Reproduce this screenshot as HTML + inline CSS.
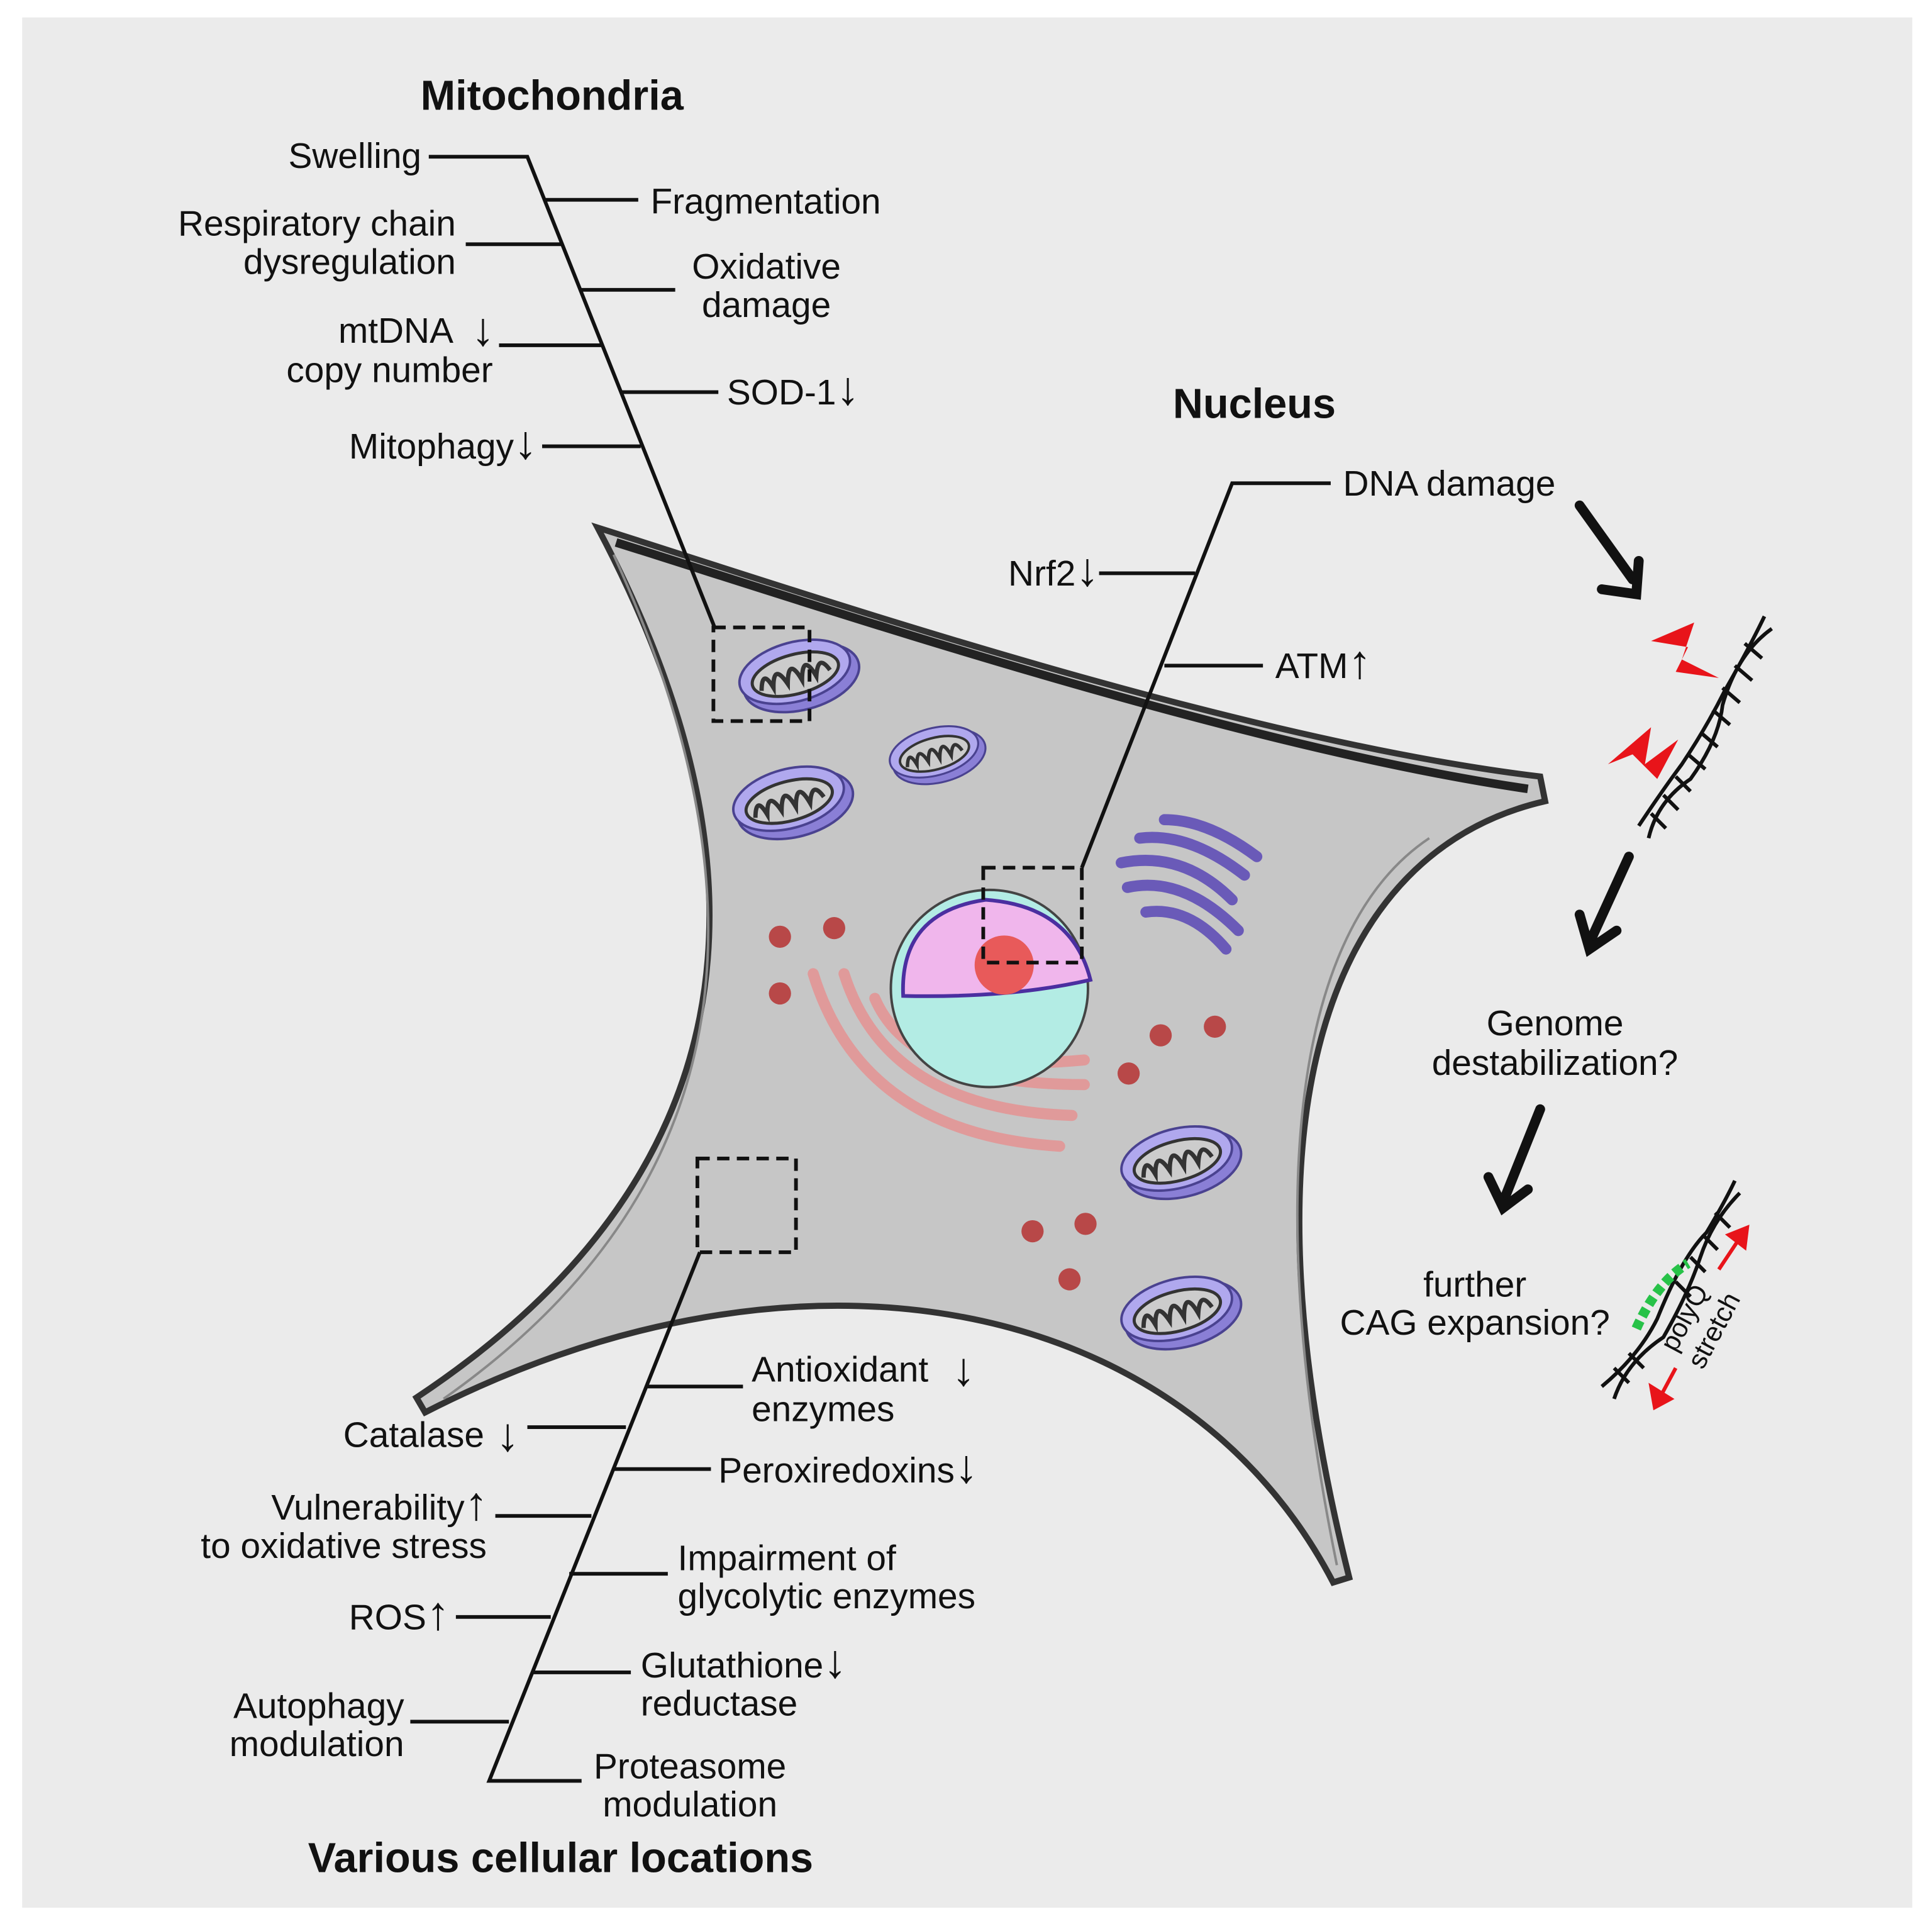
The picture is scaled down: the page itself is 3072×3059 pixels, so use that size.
<!DOCTYPE html>
<html><head><meta charset="utf-8"><style>
html,body{margin:0;padding:0;background:#fff}
svg{display:block}
text{font-family:"Liberation Sans",Arial,sans-serif;fill:#111}
.a{font-size:38px}
</style></head><body>
<svg width="3072" height="3059" viewBox="0 0 1568 1561" xmlns="http://www.w3.org/2000/svg">
<defs>
<g id="mito">
<ellipse cx="4" cy="6" rx="48" ry="26" fill="#8a7fd6" stroke="#4a4290" stroke-width="2"/>
<ellipse cx="0" cy="0" rx="46" ry="24" fill="#b0a8ee" stroke="#4a4290" stroke-width="2"/>
<ellipse cx="0" cy="2" rx="36" ry="16" fill="#ccc" stroke="#333" stroke-width="2.5"/>
<path d="M-30 8 Q-25 -10 -20 8 Q-15 -12 -8 8 Q-2 -14 4 8 Q10 -14 16 8 Q22 -10 28 6" fill="none" stroke="#333" stroke-width="3.5"/>
</g>
</defs>
<rect width="1568" height="1561" fill="#fff"/>
<rect x="18" y="14" width="1534" height="1534" fill="#ebebeb"/>

<!-- cell -->
<path d="M485 428 C650 480 1000 600 1250 630 L1254 650 C1080 690 1000 900 1095 1280 L1082 1284 C960 1050 650 990 345 1146 L338 1134 C600 960 640 720 485 428 Z" fill="#c6c6c6" stroke="#333" stroke-width="5"/>
<path d="M500 440 C660 490 1000 605 1240 640" fill="none" stroke="#222" stroke-width="7"/>
<path d="M498 450 C640 760 580 980 360 1135" fill="none" stroke="#888" stroke-width="2"/>
<path d="M1160 680 C1040 760 1030 1000 1085 1270" fill="none" stroke="#888" stroke-width="2"/>

<!-- organelles -->
<use href="#mito" transform="translate(645,545) rotate(-15)"/>
<use href="#mito" transform="translate(640,648) rotate(-15)"/>
<use href="#mito" transform="translate(758,610) rotate(-15) scale(0.8)"/>
<use href="#mito" transform="translate(955,940) rotate(-15)"/>
<use href="#mito" transform="translate(955,1062) rotate(-15)"/>
<g fill="none" stroke="#e09a9a" stroke-width="9" stroke-linecap="round">
<path d="M660 790 Q700 920 860 930"/>
<path d="M685 790 Q720 900 870 905"/>
<path d="M710 810 Q740 880 880 880"/>
<path d="M735 840 Q770 870 880 860"/>
</g>
<circle cx="803" cy="802" r="80" fill="#b3ece4" stroke="#444" stroke-width="2"/>
<path d="M733 808 Q730 740 800 730 Q870 735 885 795 Q820 810 733 808 Z" fill="#f0b6ec" stroke="#4b2fa0" stroke-width="3"/>
<circle cx="815" cy="783" r="24" fill="#e85a5a"/>
<g fill="none" stroke="#6a5ab8" stroke-width="9" stroke-linecap="round">
<path d="M910 700 Q960 690 1000 730"/>
<path d="M915 720 Q960 710 1005 755"/>
<path d="M925 680 Q965 675 1010 710"/>
<path d="M930 740 Q965 735 995 770"/>
<path d="M945 665 Q980 665 1020 695"/>
</g>
<g fill="#b84848">
<circle cx="633" cy="760" r="9"/><circle cx="677" cy="753" r="9"/><circle cx="633" cy="806" r="9"/>
<circle cx="942" cy="840" r="9"/><circle cx="986" cy="833" r="9"/><circle cx="916" cy="871" r="9"/>
<circle cx="838" cy="999" r="9"/><circle cx="881" cy="993" r="9"/><circle cx="868" cy="1038" r="9"/>
</g>

<!-- dashed boxes -->
<g fill="none" stroke="#111" stroke-width="3" stroke-dasharray="10,6">
<rect x="579" y="509" width="78" height="76"/>
<rect x="798" y="704" width="80" height="77"/>
<rect x="566" y="940" width="80" height="76"/>
</g>

<!-- leader lines -->
<g stroke="#111" stroke-width="3" fill="none">
<path d="M348 127 L428 127 L580 509"/>
<path d="M442 162 L518 162 M378 198 L456 198 M470 235 L548 235 M405 280 L488 280 M503 318 L583 318 M440 362 L520 362"/>
<path d="M1080 392 L1000 392 L878 704"/>
<path d="M892 465 L970 465 M945 540 L1025 540"/>
<path d="M568 1016 L397 1445 L472 1445"/>
<path d="M525 1125 L603 1125 M428 1158 L508 1158 M497 1192 L577 1192 M402 1230 L480 1230 M462 1277 L542 1277 M370 1312 L447 1312 M432 1357 L512 1357 M333 1397 L413 1397"/>
</g>

<!-- labels -->
<g font-size="29">
<text x="448" y="89" font-weight="bold" font-size="34" text-anchor="middle">Mitochondria</text>
<text x="342" y="136" text-anchor="end">Swelling</text>
<text x="528" y="173">Fragmentation</text>
<text x="370" y="191" text-anchor="end">Respiratory chain</text>
<text x="370" y="222" text-anchor="end">dysregulation</text>
<text x="622" y="226" text-anchor="middle">Oxidative</text>
<text x="622" y="257" text-anchor="middle">damage</text>
<text x="368" y="278" text-anchor="end">mtDNA</text>
<text x="392" y="280" text-anchor="middle" class="a">↓</text>
<text x="400" y="310" text-anchor="end">copy number</text>
<text x="590" y="328">SOD-1<tspan class="a">↓</tspan></text>
<text x="436" y="372" text-anchor="end">Mitophagy<tspan class="a">↓</tspan></text>

<text x="1018" y="339" font-weight="bold" font-size="34" text-anchor="middle">Nucleus</text>
<text x="1090" y="402">DNA damage</text>
<text x="892" y="475" text-anchor="end">Nrf2<tspan class="a">↓</tspan></text>
<text x="1035" y="550">ATM<tspan class="a">↑</tspan></text>

<text x="1262" y="840" text-anchor="middle">Genome</text>
<text x="1262" y="872" text-anchor="middle">destabilization?</text>
<text x="1197" y="1052" text-anchor="middle">further</text>
<text x="1197" y="1083" text-anchor="middle">CAG expansion?</text>

<text x="610" y="1121">Antioxidant</text>
<text x="782" y="1124" text-anchor="middle" class="a">↓</text>
<text x="610" y="1153">enzymes</text>
<text x="393" y="1174" text-anchor="end">Catalase</text>
<text x="412" y="1177" text-anchor="middle" class="a">↓</text>
<text x="583" y="1203">Peroxiredoxins<tspan class="a">↓</tspan></text>
<text x="396" y="1233" text-anchor="end">Vulnerability<tspan class="a">↑</tspan></text>
<text x="395" y="1264" text-anchor="end">to oxidative stress</text>
<text x="550" y="1274">Impairment of</text>
<text x="550" y="1305">glycolytic enzymes</text>
<text x="365" y="1322" text-anchor="end">ROS<tspan class="a">↑</tspan></text>
<text x="520" y="1361">Glutathione<tspan class="a">↓</tspan></text>
<text x="520" y="1392">reductase</text>
<text x="328" y="1394" text-anchor="end">Autophagy</text>
<text x="328" y="1425" text-anchor="end">modulation</text>
<text x="560" y="1443" text-anchor="middle">Proteasome</text>
<text x="560" y="1474" text-anchor="middle">modulation</text>
<text x="455" y="1519" font-weight="bold" font-size="34" text-anchor="middle">Various cellular locations</text>
</g>

<!-- right side arrows -->
<g stroke="#111" stroke-width="8" fill="none" stroke-linecap="round">
<path d="M1282 410 L1325 470"/><path d="M1300 478 L1328 482 L1330 455"/>
<path d="M1322 695 L1290 765"/><path d="M1282 742 L1290 770 L1312 755"/>
<path d="M1250 900 L1220 975"/><path d="M1208 955 L1220 980 L1240 965"/>
</g>
<!-- DNA helix 1 -->
<g stroke="#111" stroke-width="3" fill="none">
<path d="M1330 670 Q1350 640 1365 620 Q1385 590 1400 560 Q1420 525 1432 500"/>
<path d="M1338 680 Q1345 650 1372 632 Q1395 600 1398 572 Q1410 530 1438 510"/>
<path d="M1340 660 L1352 672 M1350 645 L1362 657 M1360 630 L1372 642 M1370 612 L1384 624 M1380 594 L1394 606 M1390 576 L1404 588 M1398 558 L1412 570 M1408 540 L1422 552 M1416 522 L1430 534"/>
</g>
<path d="M1340 520 L1375 505 L1365 535 L1395 550 L1360 545 L1370 525 Z" fill="#e8141a"/>
<path d="M1305 620 L1340 590 L1335 620 L1362 600 L1345 632 L1325 612 Z" fill="#e8141a"/>
<!-- DNA helix 2 -->
<g stroke="#111" stroke-width="3" fill="none">
<path d="M1300 1125 Q1330 1100 1345 1070 Q1365 1020 1385 1000 Q1400 975 1408 958"/>
<path d="M1310 1135 Q1320 1105 1350 1085 Q1370 1050 1380 1020 Q1390 990 1412 968"/>
<path d="M1310 1110 L1322 1122 M1322 1098 L1334 1110 M1360 1040 L1372 1052 M1372 1020 L1384 1032 M1382 1002 L1394 1014 M1392 984 L1404 996"/>
</g>
<g stroke="#27c248" stroke-width="8" fill="none" stroke-dasharray="7,4">
<path d="M1328 1078 Q1345 1040 1370 1025"/>
</g>
<g stroke="#e8141a" stroke-width="3" fill="#e8141a">
<path d="M1395 1030 L1415 1000"/><path d="M1403 1002 L1418 996 L1416 1012 Z"/>
<path d="M1360 1110 L1345 1138"/><path d="M1340 1125 L1343 1142 L1356 1135 Z"/>
</g>
<text x="0" y="0" font-size="22" transform="translate(1360,1098) rotate(-62)">polyQ</text>
<text x="0" y="0" font-size="22" transform="translate(1382,1112) rotate(-62)">stretch</text>
</svg>
</body></html>
